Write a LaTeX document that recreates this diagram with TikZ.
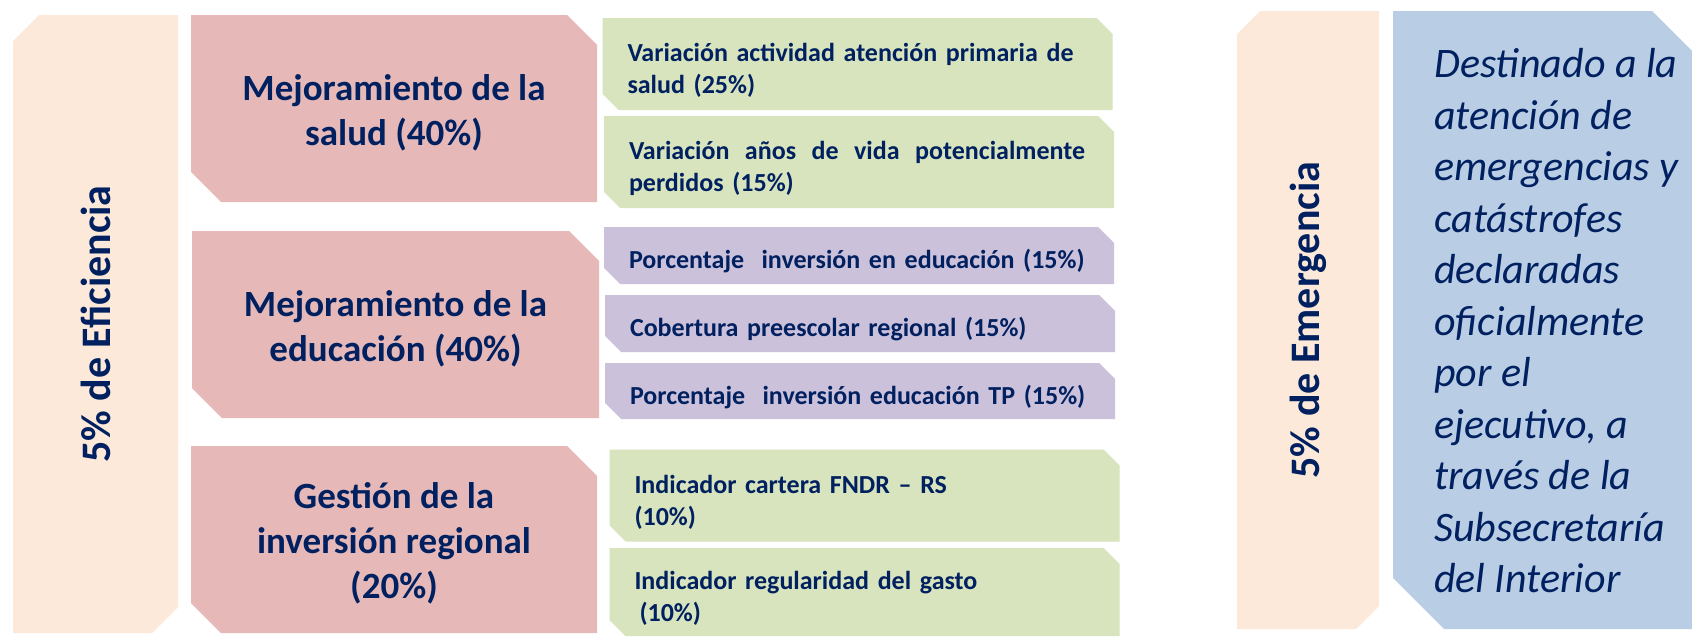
\documentclass[tikz,border=0pt]{standalone}
\usepackage{fontspec}
\setmainfont{Carlito}

\definecolor{textblue}{HTML}{002060}
\definecolor{peach}{HTML}{FDE9D9}
\definecolor{rose}{HTML}{E6B9B8}
\definecolor{olive}{HTML}{D7E4BD}
\definecolor{lilac}{HTML}{CCC1DA}
\definecolor{sky}{HTML}{B9CDE5}

% strut that pushes a text block a little down in its box
\newcommand{\dropline}[1]{\rule{0pt}{#1pt}}

\begin{document}
\begin{tikzpicture}[x=1pt, y=-1pt,
  box/.style={rectangle, inner sep=0pt, fill=white, text=textblue},
  % cut corners top right and bottom left
  cutne/.style 2 args={box, path picture={\fill [#1]
    (path picture bounding box.north west) -- ([xshift=-#2]path picture bounding box.north east)
    -- ([yshift=-#2]path picture bounding box.north east) -- (path picture bounding box.south east)
    -- ([xshift=#2]path picture bounding box.south west) -- ([yshift=#2]path picture bounding box.south west) -- cycle;}},
  % cut corners top left and bottom right
  cutnw/.style 2 args={box, path picture={\fill [#1]
    ([yshift=-#2]path picture bounding box.north west) -- ([xshift=#2]path picture bounding box.north west)
    -- (path picture bounding box.north east) -- ([yshift=#2]path picture bounding box.south east)
    -- ([xshift=-#2]path picture bounding box.south east) -- (path picture bounding box.south west) -- cycle;}},
  sidebox/.style={minimum height=618, font=\fontsize{42}{50}\selectfont\bfseries},
  areabox/.style={cutne={rose}{30}, minimum width=406, minimum height=187, align=center,
    font=\fontsize{37}{45}\selectfont\bfseries},
  indbox/.style={cutne={#1}{16}, text width=460, inner xsep=25, minimum height=92, align=left,
    font=\fontsize{26}{32}\selectfont\bfseries},
  indbox/.default=olive]
  \clip (0, 0) rectangle (1692, 637);

  % eficiencia
  \node [cutnw={peach}{26}, sidebox, minimum width=165] (eficiencia) at (95.5, 324) {\rotatebox{90}{5\% de Eficiencia}};
  \node [areabox] (salud) at (394, 108.5) {\dropline{34}Mejoramiento de la\\salud (40\%)};
  \node [areabox, minimum width=407] (educacion) at (395.5, 324.5) {\dropline{34}Mejoramiento de la\\educación (40\%)};
  \node [areabox] (inversion) at (394, 539.5) {\dropline{34}Gestión de la\\inversión regional\\(20\%)};

  \node [indbox] (aps) at (857.5, 64) {\dropline{31}\mbox{Variación actividad atención primaria de}\\salud (25\%)};
  \node [indbox] (avpp) at (859, 162) {\dropline{31}\hbox to 456pt{Variación \hfill años \hfill de \hfill vida \hfill potencialmente}\\perdidos (15\%)};
  \node [indbox=lilac, minimum height=57] (gastoedu) at (859, 255.5) {\dropline{31}\mbox{Porcentaje~ inversión en educación (15\%)}};
  \node [indbox=lilac, minimum height=57] (preescolar) at (860, 323.5) {\dropline{31}Cobertura preescolar regional (15\%)};
  \node [indbox=lilac, minimum height=56] (gastotp) at (860, 391) {\dropline{31}\mbox{Porcentaje~ inversión educación TP (15\%)}};
  \node [indbox] (fndr) at (864.5, 495.5) {\dropline{31}Indicador cartera FNDR – RS\\(10\%)};
  \node [indbox, minimum height=88] (regularidad) at (864.5, 592) {\dropline{31}Indicador regularidad del gasto\\\hspace*{5pt}(10\%)};

  % emergencia
  \node [cutnw={peach}{23}, sidebox, minimum width=142] (emergencia) at (1308, 320) {\rotatebox{90}{5\% de Emergencia}};
  \node [cutne={sky}{51}, minimum width=310, minimum height=618] (destino) at (1548, 320) {};
  \node [anchor=west, align=left, inner sep=0pt, text=textblue,
    font=\fontsize{42}{51.5}\selectfont\itshape] (detalle) at (1434, 321)
    {Destinado a la\\atención de\\emergencias y\\catástrofes\\declaradas\\oficialmente\\por el\\ejecutivo, a\\través de la\\Subsecretaría\\del Interior};
\end{tikzpicture}
\end{document}
